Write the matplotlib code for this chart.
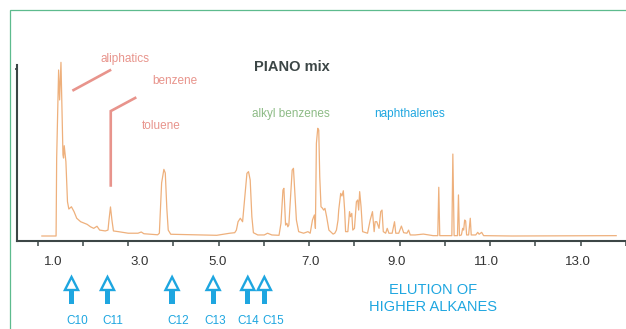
import matplotlib
matplotlib.use("Agg")
import matplotlib.pyplot as plt
from matplotlib import transforms
from matplotlib.patches import Polygon, Rectangle

plt.rcParams['font.family'] = ['Liberation Sans', 'DejaVu Sans']

# GC trace of the PIANO mix: retention time (min) and detector signal (% of largest peak)
rt = [1.093, 1.407, 1.420, 1.463, 1.485, 1.515, 1.559, 1.572, 1.587, 1.624,
      1.659, 1.689, 1.746, 1.804, 1.863, 1.950, 2.037, 2.093, 2.167, 2.239,
      2.311, 2.370, 2.493, 2.554, 2.576, 2.609, 2.641, 2.674, 2.783, 3.000,
      3.217, 3.289, 3.348, 3.652, 3.689, 3.739, 3.789, 3.820, 3.854, 3.885,
      3.941, 4.957, 5.246, 5.354, 5.391, 5.428, 5.478, 5.528, 5.572, 5.624,
      5.659, 5.696, 5.733, 5.767, 5.863, 6.007, 6.080, 6.174, 6.333, 6.376,
      6.420, 6.441, 6.478, 6.507, 6.528, 6.550, 6.587, 6.624, 6.652, 6.680,
      6.717, 6.767, 6.876, 6.972, 7.022, 7.072, 7.115, 7.137, 7.159, 7.189,
      7.211, 7.233, 7.261, 7.289, 7.320, 7.348, 7.385, 7.435, 7.528, 7.565,
      7.602, 7.637, 7.652, 7.696, 7.724, 7.754, 7.783, 7.804, 7.854, 7.891,
      7.913, 7.941, 7.963, 8.000, 8.043, 8.072, 8.093, 8.115, 8.146, 8.180,
      8.289, 8.348, 8.398, 8.435, 8.457, 8.493, 8.543, 8.580, 8.609, 8.637,
      8.689, 8.724, 8.761, 8.833, 8.885, 8.913, 8.978, 9.037, 9.087, 9.159,
      9.196, 9.233, 9.341, 9.522, 9.739, 9.841, 9.863, 9.885, 10.152, 10.174,
      10.202, 10.276, 10.298, 10.320, 10.363, 10.391, 10.413, 10.435, 10.457, 10.478,
      10.522, 10.559, 10.580, 10.680, 10.724, 10.754, 10.811, 10.854, 11.478, 13.783]
signal = [0.0, 0.0, 44.7, 95.4, 78.2, 99.8, 46.6, 44.8, 51.9, 42.7,
          19.7, 15.5, 16.8, 14.0, 10.2, 8.2, 7.3, 6.7, 5.3, 4.4,
          5.6, 3.4, 2.9, 3.4, 9.2, 16.7, 9.2, 2.9, 2.5, 1.6,
          1.6, 2.3, 1.3, 0.7, 1.6, 30.5, 38.3, 36.2, 15.9, 3.4,
          1.0, 0.4, 1.6, 1.9, 3.4, 8.2, 10.2, 8.2, 20.7, 36.0,
          37.0, 32.2, 11.1, 1.9, 0.6, 0.6, 1.6, 0.6, 0.4, 7.3,
          26.4, 27.4, 6.3, 7.3, 5.3, 6.3, 22.6, 37.9, 38.9, 26.4,
          9.2, 2.5, 1.6, 2.5, 1.6, 9.2, 12.1, 4.4, 53.3, 61.9,
          60.9, 34.1, 16.8, 16.1, 14.9, 15.9, 11.1, 3.4, 1.1, 1.6,
          3.4, 9.2, 14.9, 24.5, 23.0, 26.0, 14.9, 2.5, 2.5, 14.0,
          11.1, 13.0, 3.4, 4.4, 19.7, 20.7, 14.9, 25.5, 16.8, 2.5,
          1.6, 9.2, 14.0, 2.5, 8.2, 8.2, 4.4, 14.0, 14.9, 2.5,
          1.6, 4.4, 1.6, 1.6, 8.2, 1.6, 1.6, 5.7, 1.9, 1.6,
          3.4, 0.6, 0.6, 1.1, 0.2, 0.2, 28.0, 0.2, 0.2, 47.1,
          0.2, 0.2, 23.6, 0.2, 0.6, 4.4, 3.4, 9.2, 8.6, 0.6,
          0.6, 10.2, 0.6, 0.6, 2.1, 1.0, 2.1, 0.2, 0.0, 0.2]

# Time axis
tick_minutes = list(range(1, 15))
label_minutes = [1, 3, 5, 7, 9, 11, 13]

# n-alkane retention markers
alkanes = ['C10', 'C11', 'C12', 'C13', 'C14', 'C15']
alkane_rt = [1.748, 2.543, 3.970, 4.878, 5.643, 6.009]
alkane_label_rt = [1.870, 2.652, 4.109, 4.913, 5.661, 6.204]

W, H = 626, 329
TRACE = '#EEB07C'
SALMON = '#E8948C'
GREEN = '#8DBB86'
BLUE = '#1EA6E0'
DARK = '#3C4646'

fig = plt.figure(figsize=(W / 100, H / 100), dpi=100)
ax = fig.add_axes([17 / W, 1 - 241 / H, 609 / W, 176 / H])

ax.plot(rt, signal, color=TRACE, lw=0.9, solid_joinstyle='round', clip_on=False)
ax.set_xlim(0.5435, 13.783)
ax.set_ylim(-2.874, 98.28)

for side in ('top', 'right'):
    ax.spines[side].set_visible(False)
for side in ('left', 'bottom'):
    ax.spines[side].set_color(DARK)
    ax.spines[side].set_linewidth(1.5)

ax.set_xticks(tick_minutes)
ax.set_xticklabels([f'{v:.1f}' if v in label_minutes else '' for v in tick_minutes])
ax.tick_params(axis='x', direction='out', length=3.5, width=1.1, color=DARK,
               pad=7, labelsize=9.5, labelcolor='#333333')
label_shift_px = [16, 11, -1, 1, -3, -4, -3]
shown = [lab for lab in ax.get_xticklabels() if lab.get_text()]
for lab, dx in zip(shown, label_shift_px):
    lab.set_transform(lab.get_transform() + transforms.ScaledTranslation(dx / 100, 0, fig.dpi_scale_trans))

ax.set_yticks([96])
ax.set_yticklabels([])
ax.tick_params(axis='y', direction='out', length=1.8, width=1.2, color=DARK)

# Compound-group annotations
ax.text(2.935, 101.7, 'aliphatics', color=SALMON, fontsize=8.5, ha='center', va='center')
ax.plot([1.767, 2.624], [83.5, 95.6], color=SALMON, lw=1.9, solid_capstyle='butt')
ax.text(4.022, 89.1, 'benzene', color=SALMON, fontsize=8.5, ha='center', va='center')
ax.plot([2.615, 2.615, 3.180], [28.3, 71.8, 79.7], color=SALMON, lw=1.9,
        solid_capstyle='butt', solid_joinstyle='miter')
ax.text(3.739, 63.2, 'toluene', color=SALMON, fontsize=8.5, ha='center', va='center')
ax.text(6.62, 97.1, 'PIANO mix', color=DARK, fontsize=10.5, fontweight='bold',
        ha='center', va='center')
ax.text(6.598, 70.1, 'alkyl benzenes', color=GREEN, fontsize=8.5, ha='center', va='center')
ax.text(9.217, 70.1, 'naphthalenes', color=BLUE, fontsize=8.5, ha='center', va='center')

# Hollow-head arrows marking the n-alkanes, drawn in display pixels
ident = transforms.IdentityTransform()
for t, tl, name in zip(alkane_rt, alkane_label_rt, alkanes):
    xp = ax.transData.transform((t, 0))[0]
    tip, base, end = H - 277, H - 290, H - 304
    fig.add_artist(Rectangle((xp - 2.6, end), 5.2, base - end + 1, transform=ident,
                             facecolor=BLUE, edgecolor='none'))
    fig.add_artist(Polygon([(xp, tip), (xp - 6.6, base), (xp + 6.6, base)], closed=True,
                           transform=ident, facecolor='white', edgecolor=BLUE,
                           linewidth=1.7, joinstyle='miter'))
    xl = ax.transData.transform((tl, 0))[0]
    fig.text(xl / W, 1 - 321 / H, name, color=BLUE, fontsize=8.5, ha='center', va='center')

fig.text(433 / W, 1 - 298.5 / H, 'ELUTION OF\nHIGHER ALKANES', color=BLUE, fontsize=10.5,
         ha='center', va='center', linespacing=1.25)

# Panel frame
fig.add_artist(Rectangle((9.5, -20), W + 20, H - 9.5 + 20, transform=ident,
                         facecolor='none', edgecolor='#5DBB8E', linewidth=0.9))

fig.savefig('out.png', dpi=100)
